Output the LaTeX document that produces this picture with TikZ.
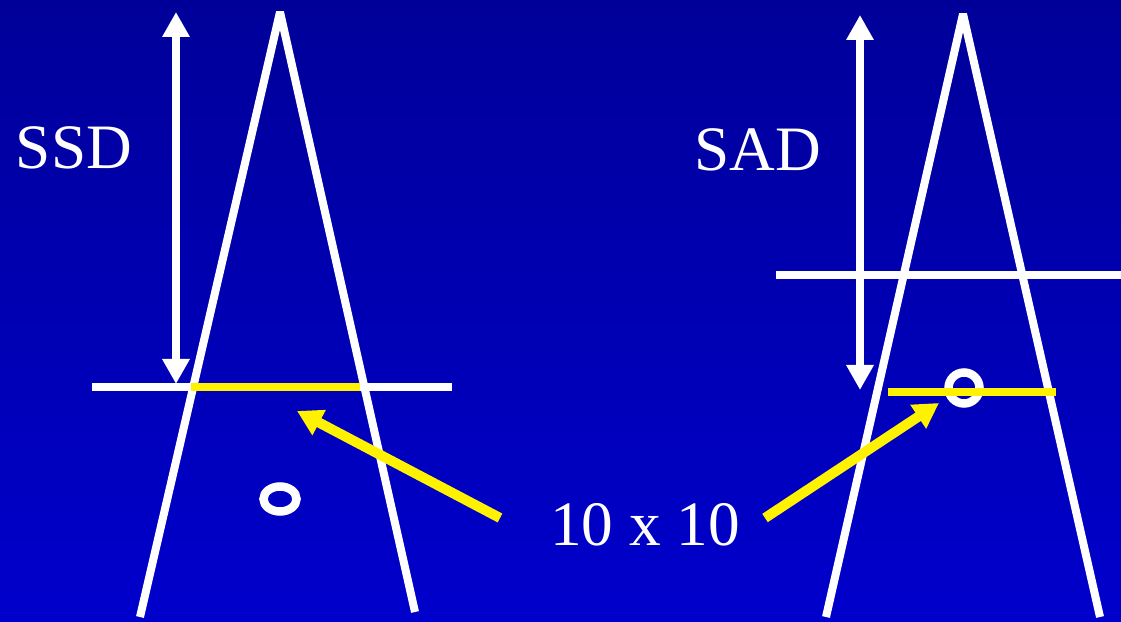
\documentclass[tikz,border=0pt]{standalone}
\usepackage{fontspec}
\setmainfont{Liberation Serif}
\usetikzlibrary{calc, positioning}
\usetikzlibrary{arrows.meta}
\definecolor{bgtop}{RGB}{0,0,153}
\definecolor{bgbottom}{RGB}{0,0,204}

\begin{document}
\begin{tikzpicture}[
  beam/.style={white, line width=0.8mm, line join=bevel},
  plane/.style={white, line width=0.8mm},
  field/.style={yellow, line width=0.8mm},
  dist/.style={white, line width=0.8mm, {Triangle[length=2.5mm,width=2.6mm]}-{Triangle[length=2.5mm,width=2.6mm]}},
  pointer/.style={yellow, line width=1mm, -{Triangle[length=2.5mm,width=2.7mm]}},
  lbl/.style={white, font=\fontsize{18}{20}\selectfont}
]
\useasboundingbox (0,0) rectangle (11.21,6.21);
\shade[top color=bgtop, bottom color=bgbottom] (0,0) rectangle (11.21,6.21);

% SSD set-up
\coordinate (A1) at (2.80,6.09);
\coordinate (L1) at (1.40,0.04);
\coordinate (R1) at (4.15,0.09);
\coordinate (P1w) at (0.92,2.34);
\coordinate (P1e) at (4.52,2.34);
\coordinate (F1w) at (1.91,2.34);
\coordinate (F1e) at (3.60,2.34);
\coordinate (D1t) at (1.76,6.09);
\coordinate (D1b) at (1.76,2.37);
\coordinate (C1) at (2.80,1.22);

\draw[beam] (L1) -- (A1) -- (R1);
\draw[plane] (P1w) -- (P1e);
\draw[field] (F1w) -- (F1e);
\draw[dist] (D1t) -- (D1b);
\draw[white, line width=0.85mm] (C1) ellipse (0.165 and 0.125);
\node[lbl] (ssd) at (0.74,4.73) {SSD};

% SAD set-up
\coordinate (A2) at (9.63,6.07);
\coordinate (L2) at (8.26,0.04);
\coordinate (R2) at (11.00,0.04);
\coordinate (P2w) at (7.76,3.46);
\coordinate (P2e) at (11.21,3.46);
\coordinate (F2w) at (8.88,2.29);
\coordinate (F2e) at (10.56,2.29);
\coordinate (D2t) at (8.60,6.06);
\coordinate (D2b) at (8.60,2.31);
\coordinate (C2) at (9.64,2.33);

\draw[beam] (L2) -- (A2) -- (R2);
\draw[plane] (P2w) -- (P2e);
\draw[white, line width=0.85mm] (C2) circle (0.155);
\draw[field] (F2w) -- (F2e);
\draw[dist] (D2t) -- (D2b);
\node[lbl] (sad) at (7.58,4.71) {SAD};

% field size
\node[lbl] (size) at (6.45,0.96) {10 x 10};
\coordinate (T1) at (5.00,1.03);
\coordinate (H1) at (2.97,2.10);
\coordinate (T2) at (7.65,1.03);
\coordinate (H2) at (9.39,2.18);
\draw[pointer] (T1) -- (H1);
\draw[pointer] (T2) -- (H2);
\end{tikzpicture}
\end{document}
